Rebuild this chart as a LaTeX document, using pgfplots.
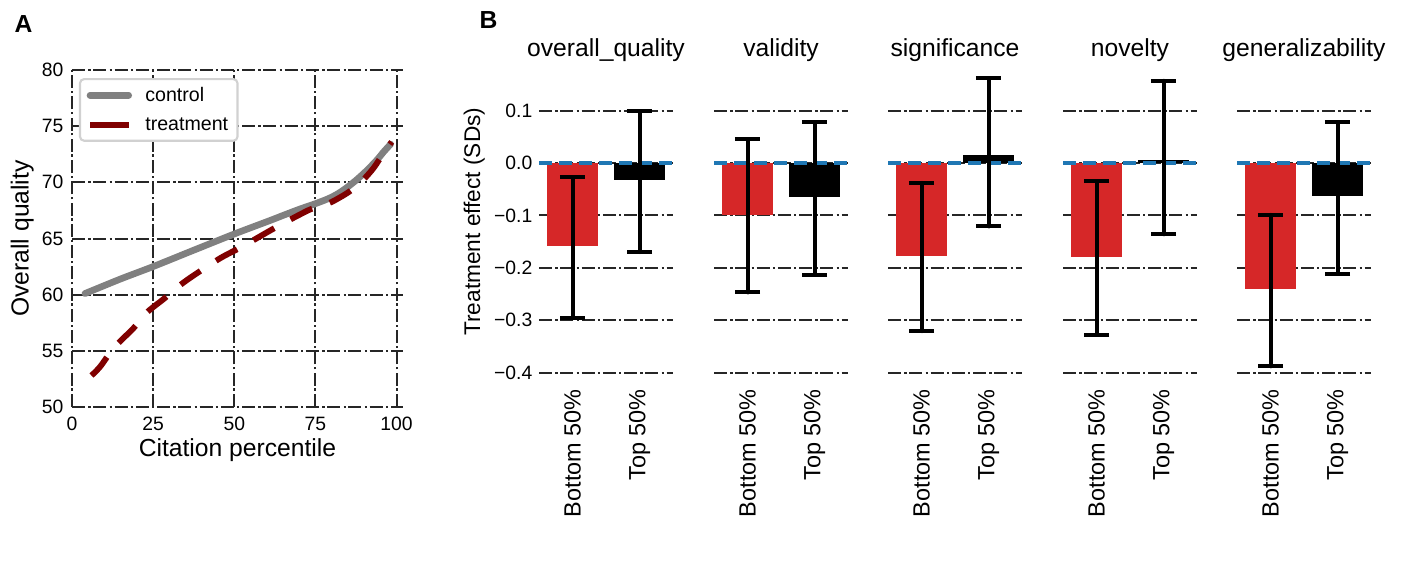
\documentclass[border=0pt]{standalone}
\usepackage{fontspec}
\setmainfont{Liberation Sans}
\usepackage{pgfplots}
\pgfplotsset{compat=1.18}

\definecolor{barred}{HTML}{D62728}
\definecolor{zeroblue}{HTML}{1F77B4}
\definecolor{gridgray}{HTML}{262626}
\definecolor{ctrlgray}{HTML}{808080}
\definecolor{treatred}{HTML}{800000}
\newcommand{\fs}[1]{\fontsize{#1}{#1}\selectfont}

\pgfplotsset{
  ddgrid/.style={line width=1.5pt, color=gridgray, dash pattern=on 9.75pt off 2.5pt on 1.7pt off 2pt},
  panelb/.style={
    scale only axis, width=100.5pt, height=231.8pt,
    xmin=-0.5, xmax=1.5, ymin=-0.41, ymax=0.18,
    axis line style={draw=none}, major tick length=0pt,
    xtick={0,1}, xticklabels={Bottom 50\%, Top 50\%},
    xticklabel style={font=\fs{17.6}, yshift=-5pt, rotate=90, anchor=east},
    ytick={-0.4,-0.3,-0.2,-0.1,0,0.1}, yticklabels={},
    ymajorgrids, grid style={ddgrid},
    every axis title/.style={at={(0.5,1)}, anchor=base, yshift=9.5pt, font=\fs{18.5}},
  },
  bred/.style={ybar, bar width=0.76, bar shift=0pt, fill=barred, draw=none, forget plot},
  bblack/.style={ybar, bar width=0.76, bar shift=0pt, fill=black, draw=none, forget plot},
  ebar/.style={draw=none, mark=none, forget plot,
    error bars/.cd, y dir=both, y explicit,
    error bar style={draw=black, line width=3pt, line cap=round},
    error mark options={draw=black, line width=3pt, mark size=9.4pt, rotate=90}},
  zline/.style={zeroblue, line width=2.8pt, dash pattern=on 9.75pt off 5.25pt, forget plot},
  treatleg/.style={legend image code/.code={\draw[##1,solid] (0pt,0pt) -- (29pt,0pt);}},
}

\begin{document}
\begin{tikzpicture}
\useasboundingbox (0,0) rectangle (1051.5pt,420.75pt);

\node[font=\bfseries\fs{18.5}, anchor=base west] at (7.5pt,396.4pt) {A};
\node[font=\bfseries\fs{18.5}, anchor=base west] at (356.25pt,399.4pt) {B};

% panel A
\begin{axis}[
  at={(54pt,115.5pt)}, anchor=south west,
  scale only axis, width=248.25pt, height=252.75pt,
  xmin=0, xmax=102, ymin=50, ymax=80,
  axis line style={draw=none}, major tick length=0pt,
  xtick={0,25,50,75,100}, ytick={50,55,60,65,70,75,80},
  /pgf/number format/assume math mode=true,
  xticklabel style={font=\fs{14.5}, yshift=-4pt},
  yticklabel style={font=\fs{14.5}, xshift=-3pt},
  grid=major, grid style={ddgrid},
  xlabel={Citation percentile}, ylabel={Overall quality},
  every axis x label/.style={at={(axis description cs:0.5,-0.148)}, anchor=base, font=\fs{18.5}},
  every axis y label/.style={at={(axis description cs:-0.131,0.5)}, rotate=90, anchor=base, font=\fs{18.5}},
  legend style={at={(0.021,0.976)}, anchor=north west, draw=black!18, line width=1.6pt,
    rounded corners=3pt, font=\fs{14.7}, row sep=7pt, inner xsep=5pt, inner ysep=4pt,
    cells={anchor=west}, /tikz/every odd column/.append style={column sep=8pt}},
  legend image code/.code={\draw[#1] (0pt,0pt) -- (29pt,0pt);},
]
\addplot[ctrlgray, line width=5pt, line cap=round, smooth] coordinates {
  (4,60.1) (15,61.4) (25,62.5) (37,63.9) (50,65.4) (61,66.6) (65,67.05)
  (70,67.6) (75,68.1) (79,68.55) (82,69.0) (85,69.6) (88,70.3) (91,71.1)
  (94,72.0) (96,72.7) (98.2,73.4)};
\addlegendentry{control}
\addplot[treatred, line width=4.4pt, dash pattern=on 18pt off 14pt, smooth, treatleg] coordinates {
  (6,52.8) (8.7,53.6) (13,55.3) (18.9,57.0) (23,58.4) (28.4,59.65) (34,61.0)
  (39.5,62.1) (46,63.3) (52.6,64.3) (58,65.2) (64.1,66.2) (70,67.1) (73.5,67.6)
  (77,67.9) (80,68.25) (84,68.9) (87,69.5) (90,70.3) (93,71.3) (96,72.6) (98.5,73.6)};
\addlegendentry{treatment}
\end{axis}

% panel B
\begin{axis}[panelb, at={(404.25pt,137.4pt)}, anchor=south west, title={overall\_quality},
  yticklabels={−0.4,−0.3,−0.2,−0.1,0.0,0.1},
  yticklabel style={font=\fs{14.5}, xshift=-1.5pt},
  ylabel={Treatment effect (SDs)},
  every axis y label/.style={at={(axis description cs:-0.44,0.505)}, rotate=90, anchor=base, font=\fs{17}}]
\addplot[bred] coordinates {(0,-0.159)};
\addplot[bblack] coordinates {(1,-0.033)};
\addplot[zline] coordinates {(-0.5,0) (1.5,0)};
\addplot[ebar] coordinates {(0,-0.159) += (0,0.132) -= (0,0.137)
                           (1,-0.033) += (0,0.132) -= (0,0.137)};
\end{axis}

\begin{axis}[panelb, at={(535.5pt,137.4pt)}, anchor=south west, title={validity}]
\addplot[bred] coordinates {(0,-0.099)};
\addplot[bblack] coordinates {(1,-0.064)};
\addplot[zline] coordinates {(-0.5,0) (1.5,0)};
\addplot[ebar] coordinates {(0,-0.099) += (0,0.144) -= (0,0.148)
                           (1,-0.064) += (0,0.142) -= (0,0.149)};
\end{axis}

\begin{axis}[panelb, at={(666pt,137.4pt)}, anchor=south west, title={significance}]
\addplot[bred] coordinates {(0,-0.177)};
\addplot[bblack] coordinates {(1,0.016)};
\addplot[zline] coordinates {(-0.5,0) (1.5,0)};
\addplot[ebar] coordinates {(0,-0.177) += (0,0.139) -= (0,0.144)
                           (1,0.016) += (0,0.146) -= (0,0.137)};
\end{axis}

\begin{axis}[panelb, at={(797.25pt,137.4pt)}, anchor=south west, title={novelty}]
\addplot[bred] coordinates {(0,-0.179)};
\addplot[bblack] coordinates {(1,0.006)};
\addplot[zline] coordinates {(-0.5,0) (1.5,0)};
\addplot[ebar] coordinates {(0,-0.179) += (0,0.144) -= (0,0.149)
                           (1,0.006) += (0,0.151) -= (0,0.142)};
\end{axis}

\begin{axis}[panelb, at={(927.75pt,137.4pt)}, anchor=south west, title={generalizability}]
\addplot[bred] coordinates {(0,-0.240)};
\addplot[bblack] coordinates {(1,-0.063)};
\addplot[zline] coordinates {(-0.5,0) (1.5,0)};
\addplot[ebar] coordinates {(0,-0.240) += (0,0.141) -= (0,0.148)
                           (1,-0.063) += (0,0.141) -= (0,0.148)};
\end{axis}
\end{tikzpicture}
\end{document}
